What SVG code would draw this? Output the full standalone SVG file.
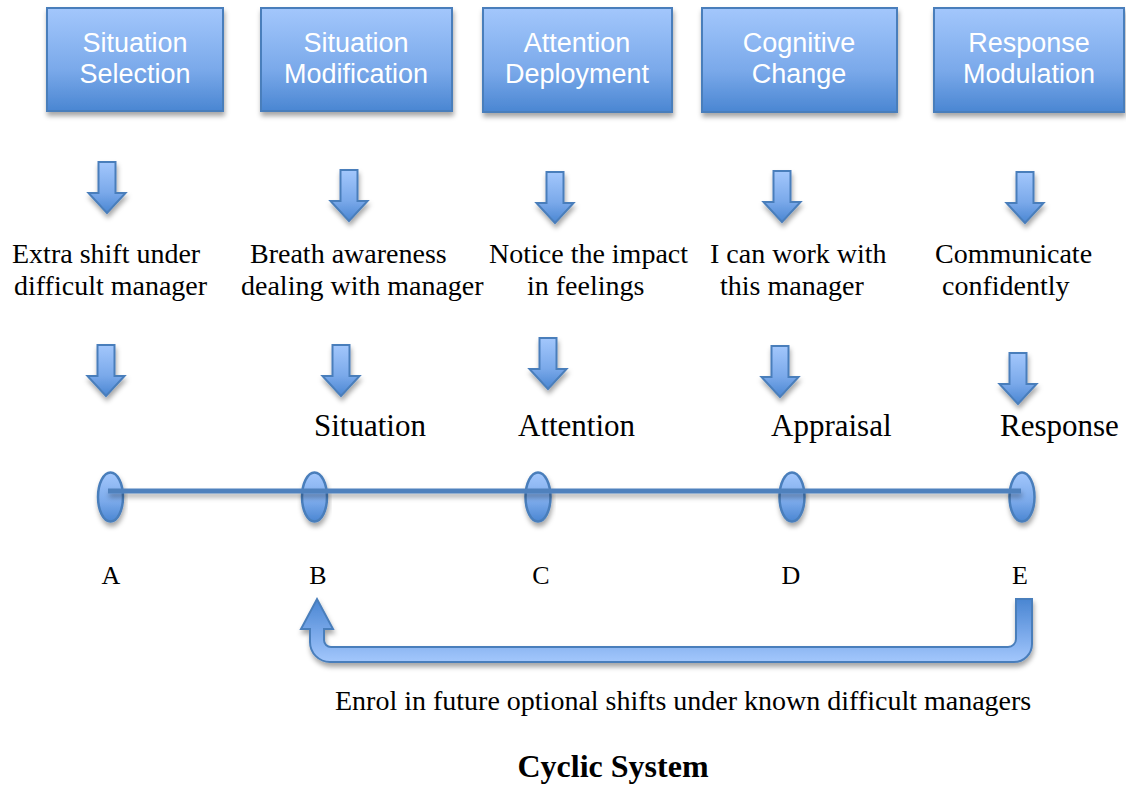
<svg xmlns="http://www.w3.org/2000/svg" width="1126" height="786" viewBox="0 0 1126 786">
  <defs>
    <linearGradient id="gBlue" x1="0" y1="0" x2="0" y2="1">
      <stop offset="0" stop-color="#a3c7fc"/>
      <stop offset="0.6" stop-color="#7aa9ea"/>
      <stop offset="1" stop-color="#4a86d2"/>
    </linearGradient>
    <linearGradient id="gLoop" gradientUnits="userSpaceOnUse" x1="0" y1="599" x2="0" y2="662">
      <stop offset="0" stop-color="#4a86d2"/>
      <stop offset="0.55" stop-color="#7aa9ea"/>
      <stop offset="1" stop-color="#a3c7fc"/>
    </linearGradient>
    <filter id="shadow" x="-20%" y="-20%" width="140%" height="150%">
      <feDropShadow dx="1" dy="4" stdDeviation="2.5" flood-color="#000" flood-opacity="0.35"/>
    </filter>
    <filter id="lineShadow" filterUnits="userSpaceOnUse" x="90" y="470" width="960" height="50">
      <feDropShadow dx="1" dy="4" stdDeviation="2.5" flood-color="#000" flood-opacity="0.3"/>
    </filter>
    <!-- block arrow pointing down, top centre at origin -->
    <path id="downArrow" d="M-8.5,0 H8.5 V31 H18.5 L0,51 L-18.5,31 H-8.5 Z"/>
  </defs>
  <style>
    .box { fill: url(#gBlue); stroke: #4a7ebb; stroke-width: 2; filter: url(#shadow); }
    .boxText { font-family: "Liberation Sans", Arial, sans-serif; font-size: 27px; fill: #ffffff; text-anchor: middle; }
    .arrow { fill: url(#gBlue); stroke: #4a7ebb; stroke-width: 2; filter: url(#shadow); }
    .body { font-family: "Liberation Serif", "Times New Roman", serif; font-size: 28px; fill: #000000; }
    .stage { font-family: "Liberation Serif", "Times New Roman", serif; font-size: 31px; fill: #000000; }
    .letter { font-family: "Liberation Serif", "Times New Roman", serif; font-size: 26px; fill: #000000; text-anchor: middle; }
    .node { fill: url(#gBlue); stroke: #4a7ebb; stroke-width: 2.5; filter: url(#shadow); }
    .axis { fill: #4f81bd; filter: url(#lineShadow); }
    .loop { fill: url(#gLoop); stroke: #4a7ebb; stroke-width: 2; filter: url(#shadow); }
  </style>

  <rect width="1126" height="786" fill="#ffffff"/>

  <!-- strategy boxes -->
  <g id="box-situation-selection">
    <rect class="box" x="47" y="8" width="176" height="103"/>
    <text class="boxText" x="135" y="52">Situation</text>
    <text class="boxText" x="135" y="83">Selection</text>
  </g>
  <g id="box-situation-modification">
    <rect class="box" x="261" y="8" width="191" height="103"/>
    <text class="boxText" x="356" y="52">Situation</text>
    <text class="boxText" x="356" y="83">Modification</text>
  </g>
  <g id="box-attention-deployment">
    <rect class="box" x="483" y="8" width="189" height="104"/>
    <text class="boxText" x="577" y="52">Attention</text>
    <text class="boxText" x="577" y="83">Deployment</text>
  </g>
  <g id="box-cognitive-change">
    <rect class="box" x="702" y="8" width="195" height="104"/>
    <text class="boxText" x="799" y="52">Cognitive</text>
    <text class="boxText" x="799" y="83">Change</text>
  </g>
  <g id="box-response-modulation">
    <rect class="box" x="934" y="8" width="190" height="104"/>
    <text class="boxText" x="1029" y="52">Response</text>
    <text class="boxText" x="1029" y="83">Modulation</text>
  </g>

  <!-- examples for each strategy -->
  <g id="example-a">
    <text class="body" x="12" y="263">Extra shift under</text>
    <text class="body" x="14" y="295">difficult manager</text>
  </g>
  <g id="example-b">
    <text class="body" x="250" y="263">Breath awareness</text>
    <text class="body" x="241" y="295">dealing with manager</text>
  </g>
  <g id="example-c">
    <text class="body" x="489" y="263">Notice the impact</text>
    <text class="body" x="527" y="295">in feelings</text>
  </g>
  <g id="example-d">
    <text class="body" x="710" y="263">I can work with</text>
    <text class="body" x="720" y="295">this manager</text>
  </g>
  <g id="example-e">
    <text class="body" x="935" y="263">Communicate</text>
    <text class="body" x="942" y="295">confidently</text>
  </g>

  <!-- stage labels -->
  <g id="stage-labels">
    <text class="stage" x="314" y="436">Situation</text>
    <text class="stage" x="518" y="436">Attention</text>
    <text class="stage" x="771" y="436">Appraisal</text>
    <text class="stage" x="1000" y="436">Response</text>
  </g>

  <!-- timeline points -->
  <g id="point-a"><ellipse class="node" cx="110.5" cy="497" rx="12.5" ry="24.5"/><text class="letter" x="111" y="584">A</text></g>
  <g id="point-b"><ellipse class="node" cx="314.5" cy="497" rx="12.5" ry="24.5"/><text class="letter" x="318" y="584">B</text></g>
  <g id="point-c"><ellipse class="node" cx="538" cy="497" rx="12.5" ry="24.5"/><text class="letter" x="541" y="584">C</text></g>
  <g id="point-d"><ellipse class="node" cx="792" cy="497" rx="12.5" ry="24.5"/><text class="letter" x="791" y="584">D</text></g>
  <g id="point-e"><ellipse class="node" cx="1022" cy="497" rx="12.5" ry="24.5"/><text class="letter" x="1020" y="584">E</text></g>

  <!-- connectors -->
  <g id="connectors">
    <!-- boxes to examples -->
    <use href="#downArrow" class="arrow" x="107" y="162"/>
    <use href="#downArrow" class="arrow" x="349" y="170"/>
    <use href="#downArrow" class="arrow" x="555" y="172"/>
    <use href="#downArrow" class="arrow" x="782" y="171"/>
    <use href="#downArrow" class="arrow" x="1025" y="172"/>
    <!-- examples to stages -->
    <use href="#downArrow" class="arrow" x="106" y="345"/>
    <use href="#downArrow" class="arrow" x="341" y="345"/>
    <use href="#downArrow" class="arrow" x="548" y="338"/>
    <use href="#downArrow" class="arrow" x="780" y="346"/>
    <use href="#downArrow" class="arrow" x="1018" y="353"/>
    <!-- timeline axis -->
    <rect class="axis" x="108" y="488.5" width="913" height="5"/>
    <!-- feedback loop from E back to B -->
    <path class="loop" d="M1016,599 H1032 V644 A18,18 0 0 1 1014,662 H330 A20,20 0 0 1 310,642 V629 H301 L317,599 L333,629 H324 V640 A7,7 0 0 0 331,647 H1008 A8,8 0 0 0 1016,639 Z"/>
  </g>

  <text id="loop-label" class="body" x="335" y="710" font-size="24">Enrol in future optional shifts under known difficult managers</text>
  <text id="title" x="613" y="777" font-family="'Liberation Serif', 'Times New Roman', serif" font-size="32" font-weight="bold" text-anchor="middle">Cyclic System</text>
</svg>
